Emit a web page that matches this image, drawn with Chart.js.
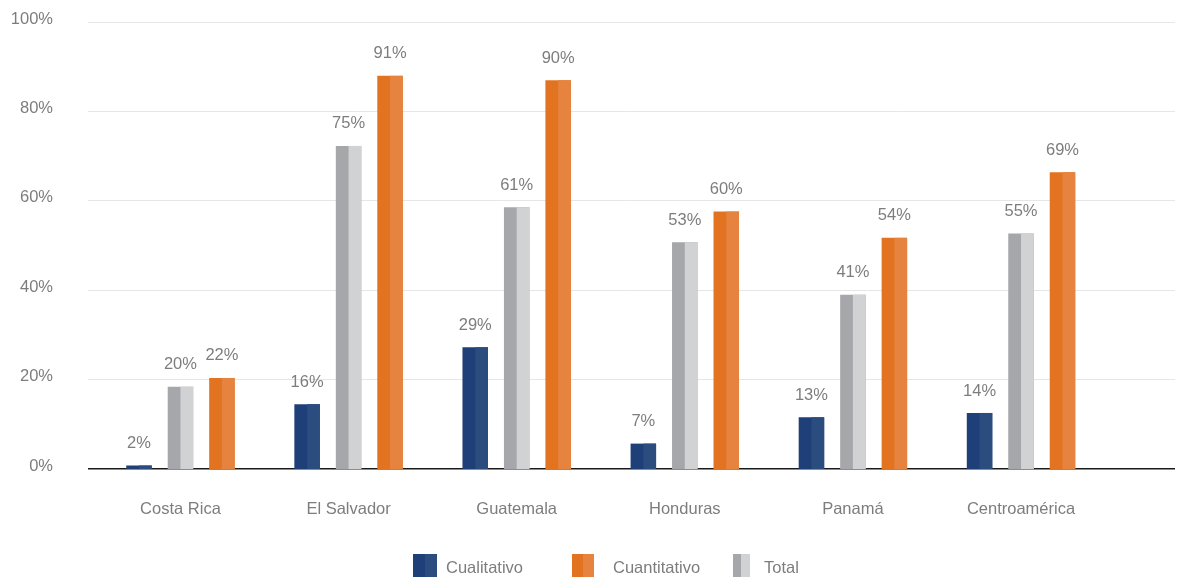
<!DOCTYPE html>
<html>
<head>
<meta charset="utf-8">
<script src="https://cdn.jsdelivr.net/npm/chart.js@4"></script>
<style>
  html, body { margin: 0; padding: 0; background: #fff; }
  #wrap { width: 1189px; height: 577px; }
</style>
</head>
<body>
<div id="wrap"><canvas id="myChart"></canvas></div>
<script>
const categories = ['Costa Rica', 'El Salvador', 'Guatemala', 'Honduras', 'Panamá', 'Centroamérica'];
const cualitativo = [2, 16, 29, 7, 13, 14];
const total = [20, 75, 61, 53, 41, 55];
const cuantitativo = [22, 91, 90, 60, 54, 69];
const yTicks = [0, 20, 40, 60, 80, 100];

const FONT = "'Liberation Sans', Arial, sans-serif";
const FSIZE = 16.5;
const TEXT = '#7d7d7d';

// dark / light halves of each bar
const darkColors = ['#1f3f78', '#a6a7aa', '#e27421'];
const lightColors = ['#2b4c7f', '#d1d2d4', '#e6843f'];

// legend: dataset index, marker width, gap to text, left x
const legendItems = [
    { ds: 0, w: 24, gap: 9, x: 413 },
    { ds: 2, w: 22, gap: 19, x: 572 },
    { ds: 1, w: 17, gap: 14, x: 733 }
];

// right half of every bar in the lighter tone, plus the value labels
const twoTone = {
    id: 'twoTone',
    afterDatasetsDraw(chart) {
        const ctx = chart.ctx;
        const area = chart.chartArea;
        chart.data.datasets.forEach((ds, i) => {
            const meta = chart.getDatasetMeta(i);
            meta.data.forEach((bar, j) => {
                const p = bar.getProps(['x', 'y', 'base', 'width'], true);
                ctx.save();
                ctx.beginPath();
                ctx.rect(area.left, area.top, area.right - area.left, area.bottom - area.top);
                ctx.clip();
                ctx.fillStyle = lightColors[i];
                ctx.fillRect(p.x, p.y, p.width / 2, p.base - p.y);
                ctx.restore();
                ctx.save();
                ctx.fillStyle = TEXT;
                ctx.font = FSIZE + 'px ' + FONT;
                ctx.textAlign = 'center';
                ctx.textBaseline = 'middle';
                ctx.fillText(ds.data[j] + '%', p.x, p.y - 22);
                ctx.restore();
            });
        });
    }
};

const bottomLegend = {
    id: 'bottomLegend',
    afterDraw(chart) {
        const ctx = chart.ctx;
        const y = chart.chartArea.bottom + 99;
        ctx.save();
        ctx.font = FSIZE + 'px ' + FONT;
        ctx.textBaseline = 'middle';
        ctx.textAlign = 'left';
        legendItems.forEach(it => {
            ctx.fillStyle = darkColors[it.ds];
            ctx.fillRect(it.x, y - 14, it.w / 2, 26);
            ctx.fillStyle = lightColors[it.ds];
            ctx.fillRect(it.x + it.w / 2, y - 14, it.w / 2, 26);
            ctx.fillStyle = TEXT;
            ctx.fillText(chart.data.datasets[it.ds].label, it.x + it.w + it.gap, y);
        });
        ctx.restore();
    }
};

const ctx = document.getElementById('myChart').getContext('2d');
const chart = new Chart(ctx, {
    type: 'bar',
    data: {
        labels: categories.map((c, i) => i),
        datasets: [
            { label: 'Cualitativo', data: cualitativo, backgroundColor: darkColors[0], yAxisID: 'yBars' },
            { label: 'Total', data: total, backgroundColor: darkColors[1], yAxisID: 'yBars' },
            { label: 'Cuantitativo', data: cuantitativo, backgroundColor: darkColors[2], yAxisID: 'yBars' }
        ]
    },
    options: {
        responsive: true,
        maintainAspectRatio: false,
        animation: false,
        categoryPercentage: 0.74,
        barPercentage: 0.615,
        layout: { padding: { top: 22, right: 14, left: 0, bottom: 58 } },
        scales: {
            x: {
                type: 'linear',
                offset: false,
                min: -0.55,
                max: 5.916,
                afterBuildTicks: (axis) => { axis.ticks = categories.map((c, i) => ({ value: i })); },
                afterFit: (axis) => { axis.height = 50; },
                grid: { display: false, drawTicks: false },
                border: { display: false },
                ticks: {
                    padding: 31,
                    color: TEXT,
                    font: { family: FONT, size: FSIZE },
                    maxRotation: 0,
                    autoSkip: false,
                    callback: (v) => categories[v]
                }
            },
            y: {
                min: 0,
                max: 100,
                afterFit: (axis) => {
                    axis.width = 88;
                    axis.paddingTop = 0;
                    axis.paddingBottom = 0;
                },
                afterBuildTicks: (axis) => { axis.ticks = yTicks.map(v => ({ value: v })); },
                border: { display: false },
                grid: {
                    drawTicks: false,
                    color: (c) => c.tick && c.tick.value === 0 ? '#1a1a1a' : '#e6e6e6',
                    lineWidth: (c) => c.tick && c.tick.value === 0 ? 1.5 : 1
                },
                ticks: {
                    padding: 35,
                    labelOffset: -3,
                    color: TEXT,
                    font: { family: FONT, size: FSIZE },
                    callback: (v) => v + '%'
                }
            },
            // the bars sit on a slightly different range than the gridlines in the original
            yBars: {
                display: false,
                min: 1.2,
                max: 103.3
            }
        },
        plugins: {
            tooltip: { enabled: false },
            legend: { display: false }
        }
    },
    plugins: [twoTone, bottomLegend]
});
</script>
</body>
</html>
